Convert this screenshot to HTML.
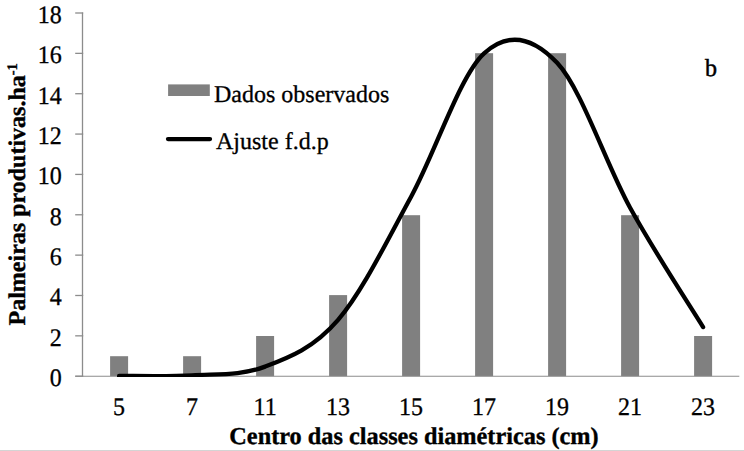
<!DOCTYPE html>
<html><head><meta charset="utf-8"><style>
html,body{margin:0;padding:0;background:#fff;width:744px;height:451px;overflow:hidden}
svg{display:block;text-rendering:geometricPrecision}
.t{font-family:"Liberation Serif",serif;font-size:24px;fill:#000;stroke:#000;stroke-width:0.3px}
.b{font-family:"Liberation Serif",serif;font-size:24.3px;font-weight:bold;fill:#000;stroke:#000;stroke-width:0.35px}
</style></head><body>
<svg width="744" height="451" viewBox="0 0 744 451">
<defs><clipPath id="pa"><rect x="0" y="0" width="744" height="377"/></clipPath></defs>
<line x1="82.5" y1="12.4" x2="82.5" y2="376.5" stroke="#8c8c8c" stroke-width="1.3"/>
<line x1="75.2" y1="376.20" x2="83.2" y2="376.20" stroke="#8c8c8c" stroke-width="1.3"/>
<line x1="75.2" y1="335.84" x2="83.2" y2="335.84" stroke="#8c8c8c" stroke-width="1.3"/>
<line x1="75.2" y1="295.49" x2="83.2" y2="295.49" stroke="#8c8c8c" stroke-width="1.3"/>
<line x1="75.2" y1="255.13" x2="83.2" y2="255.13" stroke="#8c8c8c" stroke-width="1.3"/>
<line x1="75.2" y1="214.78" x2="83.2" y2="214.78" stroke="#8c8c8c" stroke-width="1.3"/>
<line x1="75.2" y1="174.42" x2="83.2" y2="174.42" stroke="#8c8c8c" stroke-width="1.3"/>
<line x1="75.2" y1="134.07" x2="83.2" y2="134.07" stroke="#8c8c8c" stroke-width="1.3"/>
<line x1="75.2" y1="93.71" x2="83.2" y2="93.71" stroke="#8c8c8c" stroke-width="1.3"/>
<line x1="75.2" y1="53.36" x2="83.2" y2="53.36" stroke="#8c8c8c" stroke-width="1.3"/>
<line x1="75.2" y1="13.00" x2="83.2" y2="13.00" stroke="#8c8c8c" stroke-width="1.3"/>
<rect x="110.10" y="356.20" width="18" height="20.00" fill="#808080"/>
<rect x="183.10" y="356.20" width="18" height="20.00" fill="#808080"/>
<rect x="256.10" y="336.00" width="18" height="40.20" fill="#808080"/>
<rect x="329.10" y="295.10" width="18" height="81.10" fill="#808080"/>
<rect x="402.10" y="215.20" width="18" height="161.00" fill="#808080"/>
<rect x="475.10" y="53.20" width="18" height="323.00" fill="#808080"/>
<rect x="548.10" y="53.20" width="18" height="323.00" fill="#808080"/>
<rect x="621.10" y="215.20" width="18" height="161.00" fill="#808080"/>
<rect x="694.10" y="336.00" width="18" height="40.20" fill="#808080"/>
<line x1="75.2" y1="376.20" x2="739.3" y2="376.20" stroke="#8c8c8c" stroke-width="1.15"/>
<path clip-path="url(#pa)" d="M119.10,375.90 C131.27,375.80 167.77,376.84 192.10,375.30 C216.43,373.75 240.77,375.87 265.10,366.63 C289.43,357.39 313.77,348.18 338.10,319.86 C362.43,291.53 386.77,241.10 411.10,196.68 C435.43,152.26 459.77,75.65 484.10,53.34 C508.43,31.03 532.77,37.08 557.10,62.82 C581.43,88.55 605.77,163.72 630.10,207.77 C654.43,251.82 690.93,307.22 703.10,327.11" fill="none" stroke="#000" stroke-width="4.3" stroke-linecap="round" stroke-linejoin="round"/>
<text transform="translate(61.8,385.90) scale(1,1.050)" text-anchor="end" class="t">0</text>
<text transform="translate(61.8,345.58) scale(1,1.050)" text-anchor="end" class="t">2</text>
<text transform="translate(61.8,305.26) scale(1,1.050)" text-anchor="end" class="t">4</text>
<text transform="translate(61.8,264.94) scale(1,1.050)" text-anchor="end" class="t">6</text>
<text transform="translate(61.8,224.62) scale(1,1.050)" text-anchor="end" class="t">8</text>
<text transform="translate(61.8,184.30) scale(1,1.050)" text-anchor="end" class="t">10</text>
<text transform="translate(61.8,143.98) scale(1,1.050)" text-anchor="end" class="t">12</text>
<text transform="translate(61.8,103.66) scale(1,1.050)" text-anchor="end" class="t">14</text>
<text transform="translate(61.8,63.34) scale(1,1.050)" text-anchor="end" class="t">16</text>
<text transform="translate(61.8,23.02) scale(1,1.050)" text-anchor="end" class="t">18</text>
<text transform="translate(119.10,414.8) scale(1,1.050)" text-anchor="middle" class="t">5</text>
<text transform="translate(192.10,414.8) scale(1,1.050)" text-anchor="middle" class="t">7</text>
<text transform="translate(265.10,414.8) scale(1,1.050)" text-anchor="middle" class="t">11</text>
<text transform="translate(338.10,414.8) scale(1,1.050)" text-anchor="middle" class="t">13</text>
<text transform="translate(411.10,414.8) scale(1,1.050)" text-anchor="middle" class="t">15</text>
<text transform="translate(484.10,414.8) scale(1,1.050)" text-anchor="middle" class="t">17</text>
<text transform="translate(557.10,414.8) scale(1,1.050)" text-anchor="middle" class="t">19</text>
<text transform="translate(630.10,414.8) scale(1,1.050)" text-anchor="middle" class="t">21</text>
<text transform="translate(703.10,414.8) scale(1,1.050)" text-anchor="middle" class="t">23</text>
<text transform="translate(414,443.6) scale(1,1.0)" text-anchor="middle" class="b">Centro das classes diamétricas (cm)</text>
<text transform="translate(24.8,325.5) rotate(-90)" class="b" font-size="24" style="font-size:24px">Palmeiras produtivas.ha<tspan dy="-7.5" style="font-size:14.5px">-1</tspan></text>
<rect x="168.1" y="84.4" width="41.7" height="11.6" fill="#808080"/>
<text transform="translate(214,101.6) scale(1,1.0)" class="t">Dados observados</text>
<line x1="168" y1="139.1" x2="210" y2="139.1" stroke="#000" stroke-width="4.3" stroke-linecap="round"/>
<text transform="translate(216,149.3) scale(1,1.0)" class="t">Ajuste f.d.p</text>
<text transform="translate(705,75.6) scale(1,1.02)" class="t" style="stroke-width:0.5px">b</text>
<rect x="0" y="450" width="744" height="1" fill="#d4d4d4"/>
</svg></body></html>
